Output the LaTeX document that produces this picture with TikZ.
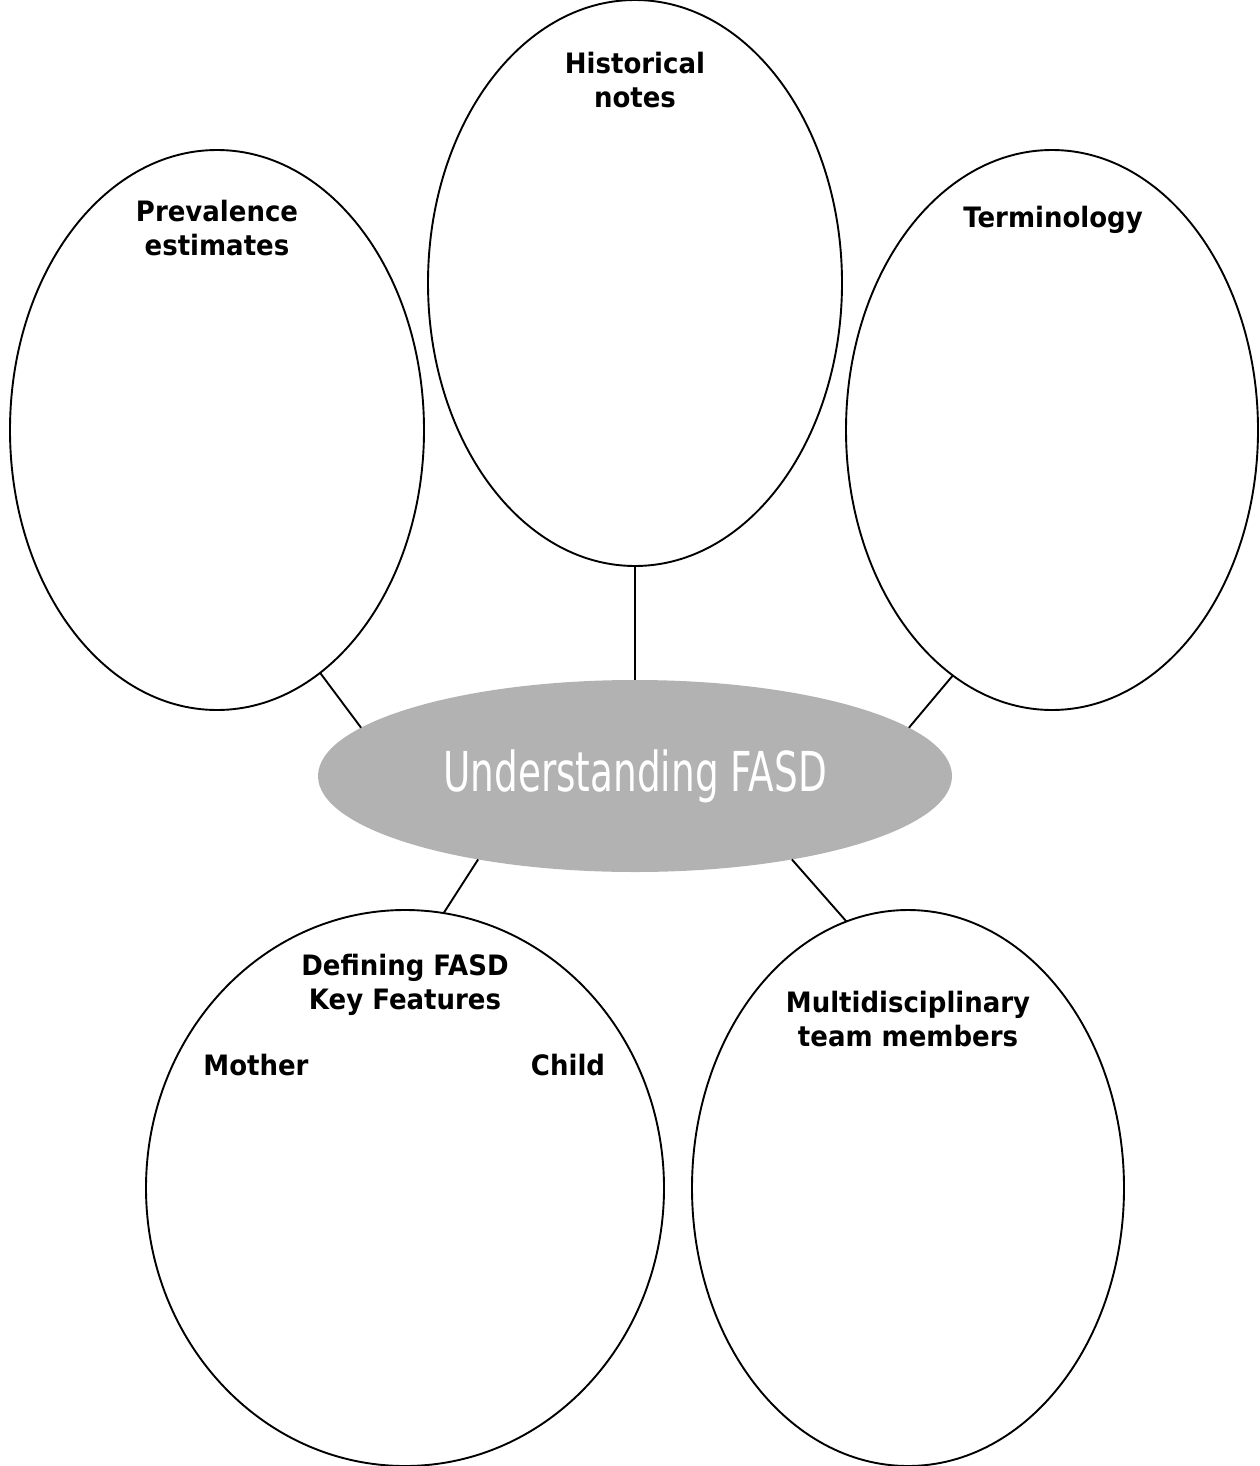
\documentclass[tikz,border=0pt]{standalone}
\usepackage{fontspec}
\setmainfont{DejaVu Sans}
\usetikzlibrary{shapes.geometric}
\definecolor{hubgray}{RGB}{178,178,178}
\newcommand{\tallbf}[1]{\scalebox{1}[1.08]{#1}}
\tikzset{
  bubble/.style={ellipse, draw=black, line width=1.9pt, inner sep=0pt, outer sep=0pt, fill=white},
  hub/.style={ellipse, fill=hubgray, draw=none, inner sep=0pt, outer sep=0pt},
  lbl/.style={font=\fontsize{26}{34}\selectfont\bfseries, align=center, inner sep=0pt, text=black},
  link/.style={line width=1.9pt, draw=black}
}
\begin{document}
\begin{tikzpicture}[x=1pt,y=-1pt]
\useasboundingbox (0,0) rectangle (1260,1466);
\node[bubble, minimum width=414pt, minimum height=560pt] (prev) at (217,430) {};
\node[bubble, minimum width=414pt, minimum height=566pt] (hist) at (635,283) {};
\node[bubble, minimum width=412pt, minimum height=560pt] (term) at (1052,430) {};
\node[bubble, minimum width=518pt, minimum height=556pt] (defn) at (405,1188) {};
\node[bubble, minimum width=432pt, minimum height=556pt] (mult) at (908,1188) {};
\node[hub, minimum width=634pt, minimum height=192pt] (core) at (635,776) {};
\node[text=white, inner sep=0pt] (coretxt) at (635,776) {\scalebox{0.68}[1]{\fontsize{55}{60}\selectfont Understanding FASD}};
\draw[link] (hist.south) -- (core.north);
\draw[link] (prev.-67.6) -- (core.170.6);
\draw[link] (term.-112.3) -- (core.10.2);
\draw[link] (core.208.3) -- (defn.82.1);
\draw[link] (core.-28.7) -- (mult.103.7);
\node[lbl] (histlbl) at (635,80) {\tallbf{Historical}\\\tallbf{notes}};
\node[lbl] (prevlbl) at (217,228) {\tallbf{Prevalence}\\\tallbf{estimates}};
\node[lbl] (termlbl) at (1053,220) {\tallbf{Terminology}};
\node[lbl] (defnlbl) at (405,985) {\tallbf{Defining FASD}\\\tallbf{Key Features}};
\node[lbl] (mothlbl) at (256,1065) {\tallbf{Mother}};
\node[lbl] (chldlbl) at (568,1065) {\tallbf{Child}};
\node[lbl] (multlbl) at (908,1019) {\tallbf{Multidisciplinary}\\\tallbf{team members}};
\end{tikzpicture}
\end{document}
